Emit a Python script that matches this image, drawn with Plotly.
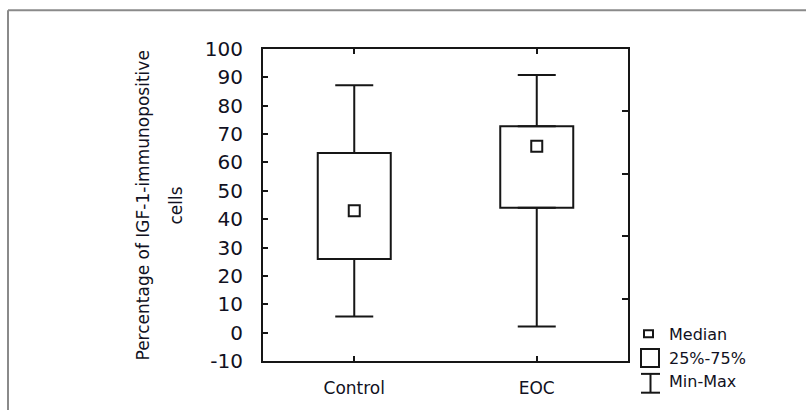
import plotly.graph_objects as go

# ---- data ----
categories = ["Control", "EOC"]
minimum = [5.7, 2.2]
q1 = [26.0, 44.0]
median = [43.0, 65.7]
q3 = [63.3, 72.8]
maximum = [87.2, 90.8]
y_ticks = [-10, 0, 10, 20, 30, 40, 50, 60, 70, 80, 90, 100]
y_tick_labels = ["-10", "0", "10", "20", "30", "40", "50", "60", "70", "80", "90", "100"]
legend_labels = ["Median", "25%-75%", "Min-Max"]
y_title_lines = ["Percentage of IGF-1-immunopositive", "cells"]

# ---- layout geometry (pixels) ----
FW, FH = 806, 410
L, R, T, B = 263, 628, 49, 364
PW, PH = R - L, B - T
INK = "#161616"
TXT = "#111122"
FONT = "DejaVu Sans"


def px(x):
    return (x - L) / PW


def py(y):
    return (B - y) / PH


fig = go.Figure()

# boxes (25%-75%)
fig.add_trace(go.Bar(
    x=categories, y=[b - a for a, b in zip(q1, q3)], base=q1, width=0.4,
    marker=dict(color="white", line=dict(color=INK, width=2)),
    showlegend=False, hoverinfo="skip"))

# upper whiskers
fig.add_trace(go.Scatter(
    x=categories, y=q3, mode="markers", marker=dict(size=1, opacity=0),
    error_y=dict(type="data", symmetric=False,
                 array=[mx - t for mx, t in zip(maximum, q3)],
                 arrayminus=[0, 0], width=19, thickness=2, color=INK),
    showlegend=False, hoverinfo="skip"))
# lower whiskers
fig.add_trace(go.Scatter(
    x=categories, y=q1, mode="markers", marker=dict(size=1, opacity=0),
    error_y=dict(type="data", symmetric=False, array=[0, 0],
                 arrayminus=[b - mn for b, mn in zip(q1, minimum)],
                 width=19, thickness=2, color=INK),
    showlegend=False, hoverinfo="skip"))

# medians
fig.add_trace(go.Scatter(
    x=categories, y=median, mode="markers",
    marker=dict(symbol="square-open", size=11, color=INK, line=dict(width=2, color=INK)),
    showlegend=False, hoverinfo="skip"))

# dummy trace for right axis
fig.add_trace(go.Scatter(x=categories, y=[None, None], yaxis="y2",
                         showlegend=False, hoverinfo="skip"))

axis_common = dict(showline=True, linecolor=INK, linewidth=2, ticks="inside",
                   tickcolor=INK, tickwidth=2, ticklen=5, showgrid=False,
                   zeroline=False)

fig.update_layout(
    width=FW, height=FH,
    margin=dict(l=L, r=FW - R, t=T, b=FH - B, pad=0),
    paper_bgcolor="white", plot_bgcolor="white",
    showlegend=False,
    font=dict(family=FONT, color=TXT),
    xaxis=dict(**axis_common, mirror="ticks", range=[-0.5, 1.5],
               tickfont=dict(size=17, family=FONT, color=TXT), ticklabelstandoff=11),
    yaxis=dict(**axis_common, mirror=True, range=[-10, 100], tickvals=y_ticks,
               ticktext=y_tick_labels,
               tickfont=dict(size=20, family=FONT, color=TXT), ticklabelstandoff=14),
    yaxis2=dict(overlaying="y", side="right", range=[-10, 100],
                tickvals=[12, 34, 56, 78], ticks="inside", ticklen=6,
                tickwidth=2, tickcolor=INK, showticklabels=False,
                showgrid=False, zeroline=False, showline=False),
)

# y-axis title as two rotated lines
for text, xx in zip(y_title_lines, [143, 176]):
    fig.add_annotation(x=px(xx), y=py(207), xref="paper", yref="paper",
                       text=text, textangle=-90, showarrow=False,
                       font=dict(size=17, family=FONT, color=TXT),
                       xanchor="center", yanchor="middle")

# outer frame (grey, top and left)
frame = dict(type="line", xref="paper", yref="paper",
             line=dict(color="#8a8a8a", width=2))
fig.add_shape(**frame, x0=px(8), x1=px(FW + 5), y0=py(10), y1=py(10))
fig.add_shape(**frame, x0=px(8), x1=px(8), y0=py(10), y1=py(FH + 5))

# custom legend
lg = dict(xref="paper", yref="paper", line=dict(color=INK, width=2))
fig.add_shape(type="rect", x0=px(644), x1=px(653), y0=py(333), y1=py(340), **lg)
fig.add_shape(type="rect", x0=px(641), x1=px(659), y0=py(352), y1=py(370), **lg)
fig.add_shape(type="line", x0=px(641), x1=px(660), y0=py(377), y1=py(377), **lg)
fig.add_shape(type="line", x0=px(641), x1=px(660), y0=py(396), y1=py(396), **lg)
fig.add_shape(type="line", x0=px(650.5), x1=px(650.5), y0=py(377), y1=py(396), **lg)
for lab, yy in zip(legend_labels, [337, 361, 385]):
    fig.add_annotation(x=px(667), y=py(yy), xref="paper", yref="paper",
                       text=lab, showarrow=False, xanchor="left", yanchor="middle",
                       font=dict(size=16, family=FONT, color=TXT))

fig.write_html("out.html")
